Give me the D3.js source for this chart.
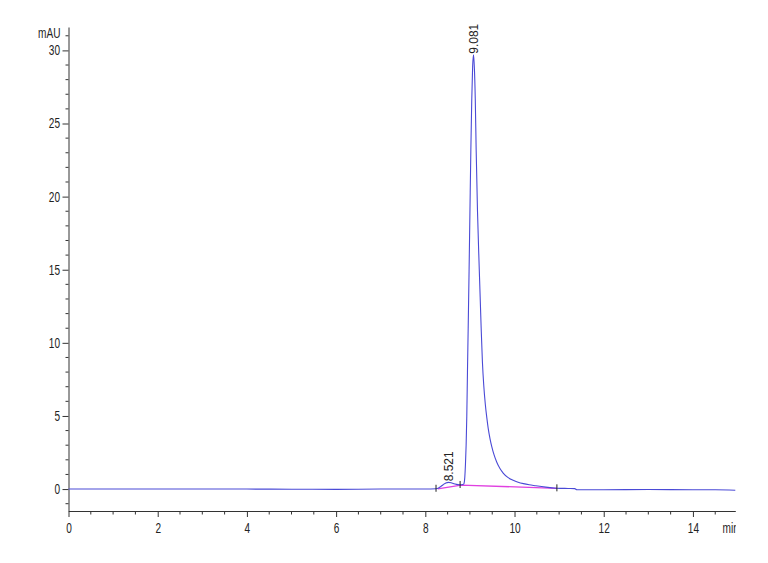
<!DOCTYPE html>
<html>
<head>
<meta charset="utf-8">
<script src="https://cdn.jsdelivr.net/npm/d3@7"></script>
<style>
  html, body { margin: 0; padding: 0; background: #fff; }
  svg { display: block; }
  text { font-family: "Liberation Sans", Arial, sans-serif; }
</style>
</head>
<body>
<svg id="chart" width="768" height="563"></svg>
<script>
// ---- data ----
const traceTime = [
  0.00, 0.20, 1.00, 2.00, 3.00, 4.00, 5.00, 6.00, 7.00, 8.00, 8.24,
  8.32, 8.40, 8.46, 8.52, 8.58, 8.64, 8.70, 8.76, 8.82, 8.86,
  8.870, 8.885, 8.900, 8.915, 8.930, 8.945, 8.961, 8.981, 9.001, 9.021, 9.041, 9.061, 9.081,
  9.10, 9.12, 9.14, 9.17, 9.21, 9.25, 9.28, 9.31, 9.345, 9.38, 9.41, 9.45, 9.49, 9.54, 9.60, 9.67, 9.75, 9.85, 9.97,
  10.08, 10.20, 10.33, 10.46, 10.70, 10.95, 11.20, 11.35, 11.40, 12.00, 13.00, 14.00, 14.50, 14.95
];
const traceValue = [
  0.00, 0.00, 0.00, 0.00, 0.00, 0.00, -0.01, -0.02, 0.00, 0.00, 0.02,
  0.12, 0.30, 0.42, 0.46, 0.43, 0.36, 0.32, 0.30, 0.30, 0.34,
  0.40, 0.80, 1.70, 3.00, 5.00, 8.00, 11.0, 14.9, 19.1, 23.2, 26.6, 28.9, 29.7,
  28.8, 26.7, 23.2, 19.0, 15.0, 11.2, 8.7, 7.1, 5.8, 4.85, 4.15, 3.45, 2.9, 2.35, 1.85, 1.42, 1.08, 0.80, 0.60,
  0.47, 0.37, 0.29, 0.23, 0.13, 0.06, 0.04, 0.03, -0.05, -0.05, -0.03, -0.05, -0.05, -0.08
];
// integration baseline (magenta)
const baseTime  = [8.28, 8.80, 10.95];
const baseValue = [0.02, 0.27, 0.05];
// peak labels
const peakTime  = [8.521, 9.081];
const peakValue = [0.46, 29.7];
const peakLabel = ["8.521", "9.081"];
// integration event marks
const eventTime  = [8.24, 8.78, 10.95];
const eventValue = [0.02, 0.28, 0.05];
// axes
const xMajorTicks = [0, 2, 4, 6, 8, 10, 12, 14];
const yMajorTicks = [0, 5, 10, 15, 20, 25, 30];
const xUnit = "min";
const yUnit = "mAU";

// ---- scales ----
const svg = d3.select("#chart");
const x = d3.scaleLinear().domain([0, 14.95]).range([68.5, 735.3]);
const y = d3.scaleLinear().domain([-1.5, 31.6]).range([511, 27]);
const axisColor = "#333";
const fontTick = "14px";
const sx = 0.72; // horizontally condensed labels

// x axis
const gx = svg.append("g").attr("transform", `translate(0,${y(-1.5)})`);
gx.call(d3.axisBottom(x).tickValues(xMajorTicks).tickFormat(d3.format("d")).tickSize(6).tickSizeOuter(0).tickPadding(6));
gx.attr("font-family", null).attr("font-size", null);
gx.select(".domain").attr("stroke", axisColor);
gx.selectAll(".tick line").attr("stroke", axisColor);
gx.selectAll(".tick text").attr("font-size", fontTick).attr("fill", "#222")
  .attr("transform", `scale(${sx},1)`);
const xMinor = d3.range(0, 15, 0.5).filter(v => !xMajorTicks.includes(v));
gx.selectAll(".minor").data(xMinor).join("line")
  .attr("x1", d => x(d)).attr("x2", d => x(d)).attr("y1", 0).attr("y2", 3.5)
  .attr("stroke", axisColor);

// y axis
const gy = svg.append("g").attr("transform", `translate(${x(0)},0)`);
gy.call(d3.axisLeft(y).tickValues(yMajorTicks).tickFormat(d3.format("d")).tickSize(6).tickSizeOuter(0).tickPadding(2.5));
gy.attr("font-family", null).attr("font-size", null);
gy.select(".domain").attr("stroke", axisColor);
gy.selectAll(".tick line").attr("stroke", axisColor);
gy.selectAll(".tick text").attr("font-size", fontTick).attr("fill", "#222")
  .attr("x", -8.5 / sx).attr("transform", `scale(${sx},1)`);
const yMinor = d3.range(-1, 32, 1).filter(v => !yMajorTicks.includes(v));
gy.selectAll(".minor").data(yMinor).join("line")
  .attr("x1", -3).attr("x2", 0).attr("y1", d => y(d)).attr("y2", d => y(d))
  .attr("stroke", axisColor);

// unit labels
svg.append("text").attr("transform", `translate(${x(0) - 8},38) scale(${sx},1)`)
  .attr("text-anchor", "end")
  .attr("font-size", fontTick).attr("fill", "#222").text(yUnit);
svg.append("clipPath").attr("id", "clipMin").append("rect")
  .attr("x", 700).attr("y", 515).attr("width", 36).attr("height", 30);
svg.append("g").attr("clip-path", "url(#clipMin)")
  .append("text").attr("transform", `translate(722.5,533) scale(${sx},1)`)
  .attr("font-size", fontTick).attr("fill", "#222").text(xUnit);

// magenta baseline
const baseData = baseTime.map((t, i) => [t, baseValue[i]]);
svg.append("path").datum(baseData)
  .attr("fill", "none").attr("stroke", "#e040e0").attr("stroke-width", 1.3)
  .attr("d", d3.line().x(d => x(d[0])).y(d => y(d[1])));

// trace
const traceData = traceTime.map((t, i) => [t, traceValue[i]]);
svg.append("path").datum(traceData)
  .attr("fill", "none").attr("stroke", "#4a4ad6").attr("stroke-width", 1.1)
  .attr("d", d3.line().curve(d3.curveMonotoneX).x(d => x(d[0])).y(d => y(d[1])));

// event marks
svg.selectAll(".evt").data(eventTime.map((t, i) => [t, eventValue[i]])).join("line")
  .attr("x1", d => x(d[0])).attr("x2", d => x(d[0]))
  .attr("y1", d => y(d[1]) - 4).attr("y2", d => y(d[1]) + 3)
  .attr("stroke", "#222").attr("stroke-width", 1);

// peak labels (rotated)
svg.selectAll(".plab").data(peakTime.map((t, i) => [t, peakValue[i], peakLabel[i]])).join("text")
  .attr("transform", d => `translate(${x(d[0]) + 4.5},${y(d[1]) - 1}) rotate(-90)`)
  .attr("font-size", "12px").attr("fill", "#222")
  .text(d => d[2]);
</script>
</body>
</html>
